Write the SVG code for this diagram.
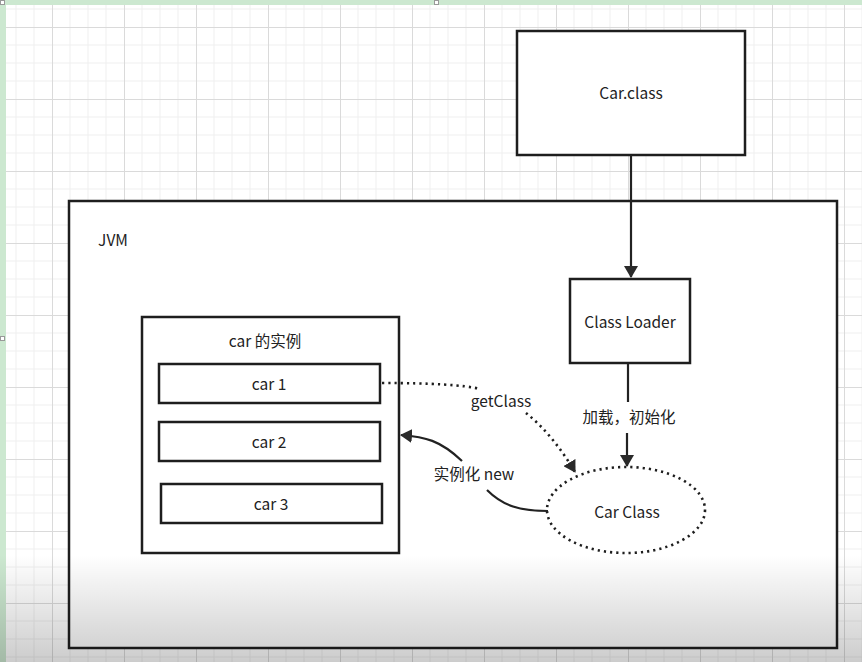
<svg xmlns="http://www.w3.org/2000/svg" width="862" height="662" viewBox="0 0 862 662">
<defs>
<pattern id="grid" patternUnits="userSpaceOnUse" x="52" y="27" width="72" height="72">
<rect width="72" height="72" fill="#ffffff"/>
<path d="M18,0V72M36,0V72M54,0V72M0,18H72M0,36H72M0,54H72" stroke="#efefef" stroke-width="1" fill="none"/>
<path d="M0.5,0V72M0,0.5H72" stroke="#dadada" stroke-width="1" fill="none"/>
</pattern>
<linearGradient id="shade" x1="0" y1="0" x2="0" y2="1">
<stop offset="0" stop-color="#000" stop-opacity="0"/>
<stop offset="1" stop-color="#000" stop-opacity="0.2"/>
</linearGradient>
<marker id="arr" viewBox="0 0 12 14" refX="11" refY="7" markerWidth="12" markerHeight="14" markerUnits="userSpaceOnUse" orient="auto">
<path d="M0,0 L12,7 L0,14 Z" fill="#2a2a2a"/>
</marker>
</defs>
<style>
.box{fill:#ffffff;stroke:#1e1e1e;stroke-width:2.5}
.lbl{font-family:"Noto Sans CJK SC","Open Sans",sans-serif;font-size:15.5px;fill:#222;text-anchor:middle;dominant-baseline:central}
.line{fill:none;stroke:#222;stroke-width:2.2}
.dot{fill:none;stroke:#1e1e1e;stroke-width:2.6;stroke-dasharray:2.2 4}
</style>
<rect width="862" height="662" fill="url(#grid)"/>
<rect x="0" y="0" width="6" height="662" fill="#cce8d0"/>
<rect x="0" y="0" width="862" height="5" fill="#cce8d0"/>
<rect x="0.5" y="0.5" width="4" height="4" fill="#fff" stroke="#999" stroke-width="1"/>
<rect x="434.5" y="0.5" width="4" height="4" fill="#fff" stroke="#999" stroke-width="1"/>
<rect x="0.5" y="336.5" width="4" height="4" fill="#fff" stroke="#999" stroke-width="1"/>

<g id="jvm">
<rect class="box" x="69" y="201" width="768" height="447"/>
<text class="lbl" x="113" y="239">JVM</text>
</g>
<g id="carclass-file">
<rect class="box" x="517" y="31" width="228" height="124"/>
<text class="lbl" x="631" y="92">Car.class</text>
</g>
<g id="classloader">
<rect class="box" x="570" y="279" width="120" height="84"/>
<text class="lbl" x="630" y="321">Class Loader</text>
</g>
<g id="instances">
<rect class="box" x="142" y="317" width="257" height="236"/>
<text class="lbl" x="265" y="340">car 的实例</text>
</g>
<g id="car1">
<rect class="box" x="159" y="364" width="221" height="39"/>
<text class="lbl" x="269" y="383">car 1</text>
</g>
<g id="car2">
<rect class="box" x="159" y="422" width="221" height="39"/>
<text class="lbl" x="269" y="441">car 2</text>
</g>
<g id="car3">
<rect class="box" x="161" y="484" width="221" height="39"/>
<text class="lbl" x="271" y="503">car 3</text>
</g>
<g id="carclass">
<ellipse class="dot" cx="626" cy="510" rx="79" ry="43"/>
<text class="lbl" x="627" y="511">Car Class</text>
</g>
<g id="connectors">
<path class="line" d="M631,155 V277" marker-end="url(#arr)"/>
<path class="line" d="M628,364 V402"/>
<path class="line" d="M627,433 V466" marker-end="url(#arr)"/>
<text class="lbl" x="629" y="416">加载，初始化</text>
<path class="dot" d="M382,383 C430,383 465,385 480,389"/>
<path class="dot" d="M526,413 C545,428 562,450 575,472" marker-end="url(#arr)"/>
<text class="lbl" x="501" y="400">getClass</text>
<path class="line" d="M548,511 C520,511 503,506 487,490"/>
<path class="line" d="M462,461 C440,440 425,437 401,435" marker-end="url(#arr)"/>
<text class="lbl" x="474" y="473">实例化 new</text>
</g>
<rect x="0" y="555" width="862" height="107" fill="url(#shade)" pointer-events="none"/>
</svg>
